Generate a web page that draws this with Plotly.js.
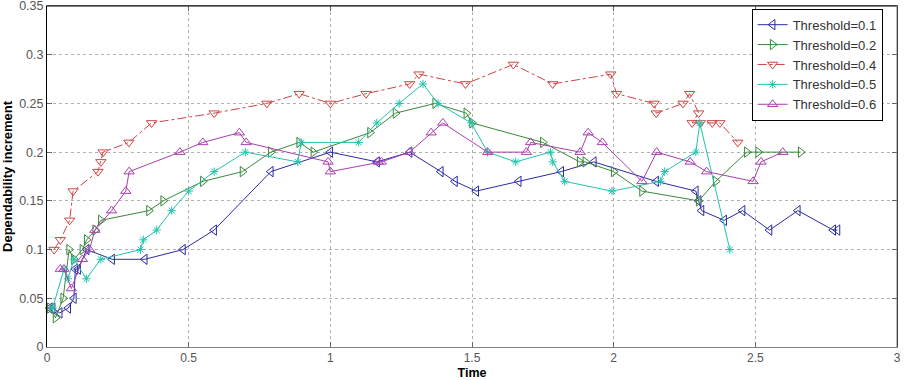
<!DOCTYPE html>
<html>
<head>
<meta charset="utf-8">
<script src="https://cdn.plot.ly/plotly-3.0.1.min.js"></script>
<style>
  html, body { margin: 0; padding: 0; background: #ffffff; }
  #chart { width: 907px; height: 380px; }
</style>
</head>
<body>
<div id="chart"></div>
<script>
// Dependability increment over time for several thresholds
const seriesNames = ['Threshold=0.1', 'Threshold=0.2', 'Threshold=0.4', 'Threshold=0.5', 'Threshold=0.6'];

const t01x = [0.01, 0.02, 0.045, 0.075, 0.095, 0.10, 0.11, 0.14, 0.23, 0.345, 0.48, 0.59, 0.79, 1.0, 1.165, 1.28, 1.39, 1.44, 1.515, 1.665, 1.815, 1.93, 2.15, 2.29, 2.30, 2.31, 2.39, 2.455, 2.55, 2.65, 2.775, 2.79];
const t01y = [0.04, 0.04, 0.035, 0.04, 0.05, 0.08, 0.08, 0.10, 0.09, 0.09, 0.10, 0.12, 0.18, 0.20, 0.19, 0.20, 0.18, 0.17, 0.16, 0.17, 0.18, 0.19, 0.17, 0.16, 0.15, 0.14, 0.13, 0.14, 0.12, 0.14, 0.12, 0.12];

const t02x = [0.01, 0.03, 0.057, 0.078, 0.095, 0.125, 0.14, 0.17, 0.19, 0.36, 0.41, 0.55, 0.69, 0.79, 0.89, 0.94, 1.14, 1.23, 1.37, 1.48, 1.50, 1.75, 1.88, 1.90, 2.0, 2.1, 2.3, 2.36, 2.47, 2.51, 2.66];
const t02y = [0.04, 0.03, 0.05, 0.10, 0.09, 0.10, 0.11, 0.12, 0.13, 0.14, 0.15, 0.17, 0.18, 0.20, 0.21, 0.20, 0.22, 0.24, 0.25, 0.24, 0.23, 0.21, 0.19, 0.19, 0.18, 0.16, 0.15, 0.17, 0.20, 0.20, 0.20];

const t04x = [0.025, 0.047, 0.08, 0.092, 0.18, 0.19, 0.198, 0.289, 0.369, 0.59, 0.776, 0.89, 1.0, 1.126, 1.28, 1.313, 1.477, 1.646, 1.785, 1.99, 2.01, 2.143, 2.15, 2.245, 2.268, 2.30, 2.277, 2.306, 2.348, 2.375, 2.438];
const t04y = [0.10, 0.11, 0.13, 0.16, 0.18, 0.19, 0.20, 0.21, 0.23, 0.24, 0.25, 0.26, 0.25, 0.26, 0.27, 0.28, 0.27, 0.29, 0.27, 0.28, 0.26, 0.25, 0.24, 0.25, 0.26, 0.24, 0.23, 0.23, 0.23, 0.23, 0.21];

const t05x = [0.02, 0.06, 0.074, 0.095, 0.139, 0.19, 0.33, 0.34, 0.387, 0.44, 0.5, 0.59, 0.70, 0.885, 0.897, 1.10, 1.164, 1.243, 1.327, 1.38, 1.497, 1.555, 1.654, 1.777, 1.785, 1.827, 1.994, 2.165, 2.18, 2.29, 2.304, 2.41];
const t05y = [0.04, 0.08, 0.07, 0.09, 0.07, 0.09, 0.10, 0.11, 0.12, 0.14, 0.16, 0.18, 0.20, 0.19, 0.21, 0.21, 0.23, 0.25, 0.27, 0.25, 0.23, 0.20, 0.19, 0.20, 0.19, 0.17, 0.16, 0.17, 0.18, 0.20, 0.23, 0.10];

const t06x = [0.047, 0.06, 0.086, 0.125, 0.15, 0.169, 0.228, 0.278, 0.29, 0.469, 0.55, 0.679, 0.703, 0.992, 1.0, 1.169, 1.18, 1.28, 1.356, 1.397, 1.555, 1.692, 1.707, 1.882, 1.91, 1.96, 2.1, 2.152, 2.27, 2.328, 2.492, 2.52, 2.597];
const t06y = [0.08, 0.08, 0.06, 0.09, 0.10, 0.12, 0.14, 0.16, 0.18, 0.20, 0.21, 0.22, 0.21, 0.19, 0.18, 0.19, 0.19, 0.20, 0.22, 0.23, 0.20, 0.20, 0.21, 0.20, 0.22, 0.21, 0.17, 0.20, 0.19, 0.18, 0.17, 0.19, 0.20];

const xTicks = [0, 0.5, 1, 1.5, 2, 2.5, 3];
const xTickText = ['0', '0.5', '1', '1.5', '2', '2.5', '3'];
const yTicks = [0, 0.05, 0.1, 0.15, 0.2, 0.25, 0.3, 0.35];
const yTickText = ['0', '0.05', '0.1', '0.15', '0.2', '0.25', '0.3', '0.35'];

const colors = ['#2b2ba6', '#3a883a', '#cf4545', '#22c4ad', '#a93fae'];
const symbols = ['triangle-left-open', 'triangle-right-open', 'triangle-down-open', 'asterisk-open', 'triangle-up-open'];
const dashes = ['solid', 'solid', 'dashdot', 'solid', 'solid'];
const xs = [t01x, t02x, t04x, t05x, t06x];
const ys = [t01y, t02y, t04y, t05y, t06y];

const traces = seriesNames.map((name, i) => ({
  type: 'scatter',
  mode: 'lines+markers',
  name: name,
  x: xs[i],
  y: ys[i],
  cliponaxis: false,
  line: { color: colors[i], width: 1, dash: dashes[i] },
  marker: { symbol: symbols[i], size: i === 3 ? 7 : 9, color: colors[i], line: { color: colors[i], width: 1 } }
}));

const font = 'Arial, "Liberation Sans", sans-serif';

const layout = {
  width: 907,
  height: 380,
  margin: { l: 47, r: 10, t: 6, b: 33 },
  paper_bgcolor: '#ffffff',
  plot_bgcolor: '#ffffff',
  showlegend: true,
  legend: {
    x: 0.829, y: 0.992, xanchor: 'left', yanchor: 'top',
    bgcolor: '#ffffff', bordercolor: '#000000', borderwidth: 1,
    font: { family: font, size: 13, color: '#333333' },
    itemwidth: 30, tracegroupgap: 0
  },
  xaxis: {
    range: [0, 3],
    tickvals: xTicks, ticktext: xTickText,
    ticks: 'inside', ticklen: 5, tickcolor: '#666666',
    ticklabelstandoff: 0,
    showline: true, linecolor: '#808080', linewidth: 1, mirror: 'ticks',
    showgrid: true, gridcolor: '#b0b0b0', griddash: 'dot', gridwidth: 1,
    zeroline: false,
    tickfont: { family: font, size: 12, color: '#555555' },
    title: { text: '<b>Time</b>', font: { family: font, size: 12.5, color: '#000000' }, standoff: 4 }
  },
  yaxis: {
    range: [0, 0.35],
    tickvals: yTicks, ticktext: yTickText,
    ticks: 'inside', ticklen: 5, tickcolor: '#666666',
    ticklabeloverflow: 'allow',
    showline: true, linecolor: '#000000', linewidth: 1, mirror: 'ticks',
    showgrid: true, gridcolor: '#b0b0b0', griddash: 'dot', gridwidth: 1,
    zeroline: false,
    tickfont: { family: font, size: 12.5, color: '#555555' },
    title: { text: '<b>Dependability increment</b>', font: { family: font, size: 13, color: '#000000' }, standoff: 4 }
  },
  shapes: [
    { type: 'line', xref: 'paper', yref: 'paper', x0: 0, x1: 1, y0: 1, y1: 1, line: { color: '#000000', width: 1 }, layer: 'above' },
    { type: 'line', xref: 'paper', yref: 'paper', x0: 1, x1: 1, y0: 0, y1: 1, line: { color: '#808080', width: 1 }, layer: 'above' }
  ]
};

Plotly.newPlot('chart', traces, layout, { displayModeBar: false, staticPlot: true });
</script>
</body>
</html>
